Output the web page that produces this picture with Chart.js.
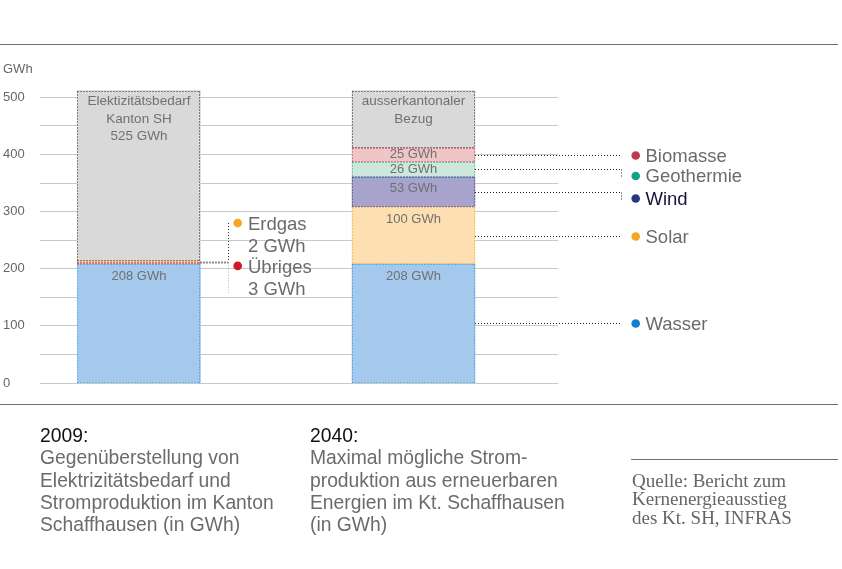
<!DOCTYPE html>
<html>
<head>
<meta charset="utf-8">
<script src="https://cdn.jsdelivr.net/npm/chart.js@4/dist/chart.umd.min.js"></script>
<style>
  body { margin: 0; background: #fff; }
  #wrap { position: relative; width: 842px; height: 569px; overflow: hidden; font-family: "Liberation Sans", Arial, sans-serif; }
  #chart { position: absolute; left: 0; top: 0; }
  .rule { position: absolute; height: 0; border-top: 1px solid #707070; }
  .cap { position: absolute; font-size: 19.3px; line-height: 22.3px; color: #6b6b6b; white-space: nowrap; }
  .cap .yr { color: #111; }
  .src { position: absolute; font-family: "Liberation Serif", "DejaVu Serif", serif; font-size: 19px; line-height: 18.3px; color: #666; white-space: nowrap; }
</style>
</head>
<body>
<div id="wrap">
  <canvas id="chart" width="842" height="569"></canvas>
  <div class="rule" style="left:0; top:44px; width:838px;"></div>
  <div class="rule" style="left:0; top:404px; width:838px;"></div>
  <div class="cap" style="left:40px; top:425px;">
    <div class="yr">2009:</div>
    Gegenüberstellung von<br>Elektrizitätsbedarf und<br>Stromproduktion im Kanton<br>Schaffhausen (in GWh)
  </div>
  <div class="cap" style="left:310px; top:425px;">
    <div class="yr">2040:</div>
    Maximal mögliche Strom-<br>produktion aus erneuerbaren<br>Energien im Kt. Schaffhausen<br>(in GWh)
  </div>
  <div class="rule" style="left:631px; top:459px; width:207px;"></div>
  <div class="src" style="left:632px; top:472px;">
    Quelle: Bericht zum<br>Kernenergieausstieg<br>des Kt. SH, INFRAS
  </div>
</div>
<script>
// two stacked columns: 2009 demand vs 2040 potential production
const barX = [1, 3];
const wasser = [208, 208];
const uebriges = [3, null];
const erdgas = [2, null];
const solar = [null, 100];
const wind = [null, 53];
const geothermie = [null, 26];
const biomasse = [null, 25];
const rest = [299, 100]; // grey part
const restLabels = [['Elektizitätsbedarf', 'Kanton SH', '525 GWh'], ['ausserkantonaler', 'Bezug']];
const yTicks = [0, 100, 200, 300, 400, 500];

const FONT = '"Liberation Sans", Arial, sans-serif';

function points(values) {
    return barX.map((x, i) => ({ x: x, y: values[i] }));
}

// fill, dotted border, legend dot, label inside bar?
const series = [
    { name: 'Wasser', values: wasser, fill: '#a4c9ec', line: '#1e8fe0', dot: '#1280d0', inner: true },
    { name: 'Übriges', values: uebriges, fill: '#f3c9c4', line: '#d0202a', dot: '#cc1a22', inner: false },
    { name: 'Erdgas', values: erdgas, fill: '#fcdcb0', line: '#f5a623', dot: '#f5a623', inner: false },
    { name: 'Solar', values: solar, fill: '#fddfb2', line: '#f5a623', dot: '#f5a623', inner: true },
    { name: 'Wind', values: wind, fill: '#a7a3cd', line: '#2b3280', dot: '#283582', inner: true },
    { name: 'Geothermie', values: geothermie, fill: '#cde7dc', line: '#16a383', dot: '#13a384', inner: true },
    { name: 'Biomasse', values: biomasse, fill: '#efc6c8', line: '#c8384b', dot: '#c0384e', inner: true },
    { name: 'Rest', values: rest, fill: '#d9d9d9', line: '#222222', dot: null, inner: false },
];

// legend on the right: series name, vertical shift from segment middle
const rightLegend = [
    ['Biomasse', 0], ['Geothermie', 6.5], ['Wind', 6], ['Solar', 0], ['Wasser', 0],
];

function dotted(ctx, color, width, x1, y1, x2, y2) {
    ctx.save();
    ctx.strokeStyle = color;
    ctx.lineWidth = width;
    ctx.setLineDash([1, 2]);
    ctx.beginPath();
    ctx.moveTo(x1, y1);
    ctx.lineTo(x2, y2);
    ctx.stroke();
    ctx.restore();
}

function dot(ctx, color, x, y) {
    ctx.fillStyle = color;
    ctx.beginPath();
    ctx.arc(x, y, 4.3, 0, Math.PI * 2);
    ctx.fill();
}

function barBox(chart, name, i) {
    const d = series.findIndex(s => s.name === name);
    if (series[d].values[i] == null) return null;
    const bar = chart.getDatasetMeta(d).data[i];
    if (!bar) return null;
    const p = bar.getProps(['x', 'y', 'base', 'width'], true);
    return { left: p.x - p.width / 2, right: p.x + p.width / 2, top: Math.min(p.y, p.base), bottom: Math.max(p.y, p.base), x: p.x };
}

const overlay = {
    id: 'overlay',
    afterDatasetsDraw(chart) {
        const ctx = chart.ctx;
        const yScale = chart.scales.y;

        // dotted outlines, upper segments first so the lower ones keep their top edge
        for (let d = series.length - 1; d >= 0; d--) {
            barX.forEach((_, i) => {
                const b = barBox(chart, series[d].name, i);
                if (!b) return;
                const l = Math.round(b.left) + 0.5, r = Math.round(b.right) - 0.5;
                const t = Math.round(b.top) + 0.5, bt = Math.round(b.bottom) - 0.5;
                dotted(ctx, series[d].line, 1, l, t, r, t);
                dotted(ctx, series[d].line, 1, l, bt, r, bt);
                dotted(ctx, series[d].line, 1, l, t, l, bt);
                dotted(ctx, series[d].line, 1, r, t, r, bt);
            });
        }

        ctx.save();
        ctx.textAlign = 'center';
        ctx.textBaseline = 'middle';
        ctx.fillStyle = '#707070';
        ctx.font = '13px ' + FONT;
        // labels inside the segments
        series.forEach(s => {
            if (!s.inner) return;
            barX.forEach((_, i) => {
                const b = barBox(chart, s.name, i);
                if (!b) return;
                const ly = Math.min(b.top + 12, (b.top + b.bottom) / 2);
                ctx.fillText(s.values[i] + ' GWh', b.x, ly);
            });
        });
        ctx.font = '13.5px ' + FONT;
        restLabels.forEach((lines, i) => {
            const b = barBox(chart, 'Rest', i);
            lines.forEach((txt, k) => ctx.fillText(txt, b.x, b.top + 11 + k * 17.5));
        });
        ctx.restore();

        // right hand legend with connectors
        ctx.save();
        ctx.font = '18.5px ' + FONT;
        ctx.textBaseline = 'middle';
        ctx.textAlign = 'left';
        rightLegend.forEach(([name, shift]) => {
            const s = series.find(v => v.name === name);
            const b = barBox(chart, name, 1);
            const my = Math.round((b.top + b.bottom) / 2) + 0.5;
            dotted(ctx, '#222', 1, b.right, my, 621, my);
            if (shift) dotted(ctx, '#222', 1, 621.5, my, 621.5, my + shift + 1);
            dot(ctx, s.dot, 635.7, my + shift);
            ctx.fillStyle = name === 'Wind' ? '#14143a' : '#6b6b6b';
            ctx.fillText(name, 645.5, my + shift + 1);
        });

        // Erdgas / Übriges note next to the 2009 column
        const g = barBox(chart, 'Erdgas', 0);
        const u = barBox(chart, 'Übriges', 0);
        const cy = Math.round((g.top + u.bottom) / 2) - 0.5;
        const yE = yScale.getPixelForValue(280);
        const yU = yScale.getPixelForValue(205);
        dotted(ctx, '#222', 2, g.right, cy, 228, cy);
        dotted(ctx, '#222', 1, 228.5, yE, 228.5, cy);
        dotted(ctx, '#aaaaaa', 1, 228.5, cy, 228.5, yU + 27);
        dot(ctx, '#f5a623', 237.7, yE);
        dot(ctx, '#cc1a22', 237.7, yU);
        ctx.fillStyle = '#6b6b6b';
        ctx.fillText('Erdgas', 248, yE + 1.5);
        ctx.fillText(erdgas[0] + ' GWh', 248, yE + 23.5);
        ctx.fillText('Übriges', 248, yU + 1.5);
        ctx.fillText(uebriges[0] + ' GWh', 248, yU + 23.5);

        // unit
        ctx.font = '13px ' + FONT;
        ctx.fillStyle = '#666';
        ctx.fillText('GWh', 3, 69);
        ctx.restore();
    }
};

new Chart(document.getElementById('chart'), {
    type: 'bar',
    data: {
        datasets: series.map(s => ({
            label: s.name,
            data: points(s.values),
            backgroundColor: s.fill,
            borderWidth: 0,
            barThickness: 123,
            stack: 'a',
        })),
    },
    options: {
        responsive: false,
        animation: false,
        devicePixelRatio: 1,
        layout: { padding: { left: 3, right: 284, top: 86, bottom: 186 } },
        plugins: { legend: { display: false }, tooltip: { enabled: false } },
        scales: {
            x: {
                type: 'linear',
                display: false,
                stacked: true,
                offset: false,
                min: 0.2787,
                max: 4.0528,
            },
            y: {
                stacked: true,
                min: 0,
                max: 520,
                border: { display: false },
                grid: { color: '#c8c8c8', lineWidth: 1, drawTicks: false },
                afterFit: (scale) => { scale.width = 37; },
                ticks: {
                    stepSize: 50,
                    includeBounds: false,
                    crossAlign: 'far',
                    padding: 0,
                    color: '#666',
                    font: { size: 13, family: FONT },
                    callback: (v) => (yTicks.includes(v) ? String(v) : ''),
                },
            },
        },
    },
    plugins: [overlay],
});
</script>
</body>
</html>
